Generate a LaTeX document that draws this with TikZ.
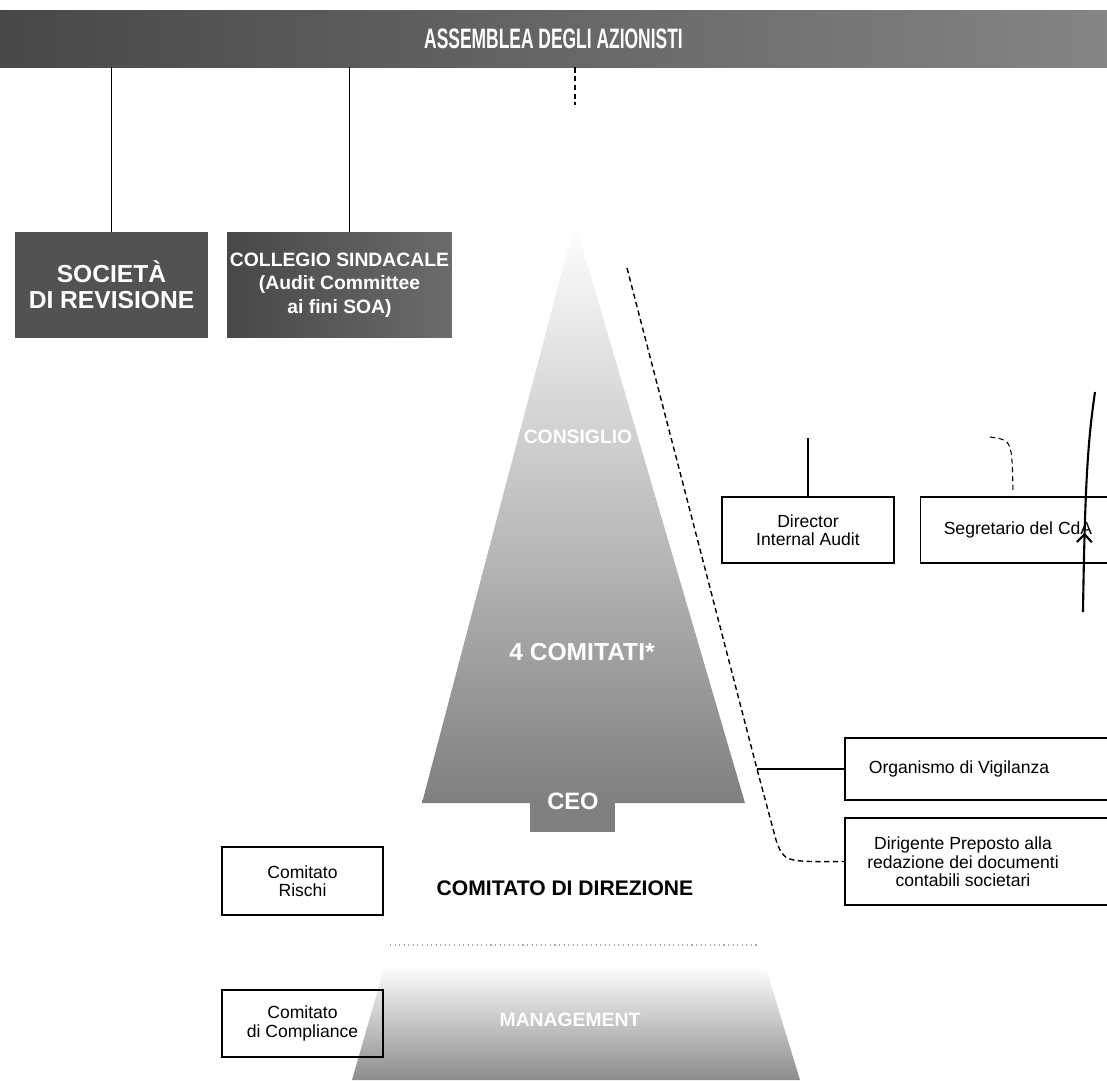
\documentclass[tikz,border=0pt]{standalone}
\usepackage{fontspec}
\setmainfont{Liberation Sans}
\newfontfamily\narrowfont{Liberation Sans}[FakeStretch=0.62]
\usetikzlibrary{calc,arrows.meta,decorations.markings}

\begin{document}
\begin{tikzpicture}[x=0.02cm,y=-0.02cm,
  darkbox/.style={draw=none,inner sep=0pt,text=white,align=center},
  infobox/.style={draw,line width=1pt,inner sep=0pt,align=center,font=\fontsize{10}{10.5}\selectfont},
  infotext/.style={align=center,font=\fontsize{10}{10.5}\selectfont},
  plabel/.style={text=white,font=\bfseries}]
\useasboundingbox (0,0) rectangle (1107,1080);
\node[darkbox,left color=black!72,right color=black!48,minimum width=22.14cm,minimum height=1.14cm,
  font=\narrowfont\bfseries\fontsize{16}{18}\selectfont] (assemblea) at (553.5,38.5) {ASSEMBLEA DEGLI AZIONISTI};
\node[darkbox,fill=black!68,minimum width=3.86cm,minimum height=2.12cm,
  font=\bfseries\fontsize{14}{15}\selectfont] (societa) at (111.5,285) {SOCIETÀ\\DI REVISIONE};
\node[darkbox,left color=black!72,right color=black!58,minimum width=4.5cm,minimum height=2.12cm,
  font=\bfseries\fontsize{11}{13.5}\selectfont] (collegio) at (339.5,285) {COLLEGIO SINDACALE\\(Audit Committee\\ai fini SOA)};
\coordinate (apex) at (575,222);
\shade[top color=white,middle color=black!20,bottom color=black!50] (apex) -- (745,803) -- (422,803) -- cycle;
\node[fill=black!50,minimum width=1.7cm,minimum height=0.58cm,inner sep=0pt] (ceobox) at (572.5,817.5) {};
\shade[top color=white,bottom color=black!45] (385,965) -- (765,965) -- (800,1080) -- (352,1080) -- cycle;
\draw[black!35,dotted,line width=0.6pt] (390,945) -- (760,945);
\node[plabel,font=\bfseries\fontsize{11}{13}\selectfont] (cda) at (578,437) {CONSIGLIO};
\node[plabel,font=\bfseries\fontsize{14}{16}\selectfont] (comitati) at (582,652) {4 COMITATI*};
\node[plabel,font=\bfseries\fontsize{13.5}{15}\selectfont] (ceo) at (573,801) {CEO};
\node[font=\bfseries\fontsize{12}{14}\selectfont] (direzione) at (565,888) {COMITATO DI DIREZIONE};
\node[plabel,font=\bfseries\fontsize{11}{13}\selectfont] (management) at (570,1020) {MANAGEMENT};
\node[infobox,minimum width=3.22cm,minimum height=1.36cm] (rischi) at (302.5,881) {Comitato\\Rischi};
\node[infobox,minimum width=3.22cm,minimum height=1.34cm] (compliance) at (302.5,1023.5) {Comitato\\di Compliance};
\node[infobox,minimum width=3.44cm,minimum height=1.32cm] (audit) at (808,530) {Director\\Internal Audit};
\node[infobox,minimum width=3.9cm,minimum height=1.32cm] (segretario) at (1018,530) {Segretario del CdA};
\node[infobox,minimum width=5.8cm,minimum height=1.24cm] (odv) at (990,769) {};
\node[infotext] (odvtext) at (959,769) {Organismo di Vigilanza};
\node[infobox,minimum width=5.8cm,minimum height=1.74cm] (dirigente) at (990,861.5) {};
\node[infotext] (dirtext) at (963,862) {Dirigente Preposto alla\\redazione dei documenti\\contabili societari};
\draw[line width=0.7pt] (assemblea.south -| societa.north) -- (societa.north);
\draw[line width=0.7pt] ([xshift=0.2cm]collegio.north |- assemblea.south) -- ([xshift=0.2cm]collegio.north);
\draw[line width=0.7pt,densely dashed] (assemblea.south -| apex) -- ++(0,38);
\coordinate (auditin) at (808,438);
\draw[line width=0.7pt] (auditin) -- (audit.north);
\coordinate (dtop) at (627,268);
\coordinate (knee) at (757,769);
\coordinate (dbend) at (776,840);
\draw[line width=0.8pt,densely dashed] (dtop) -- (knee) -- (dbend) .. controls (784,862) .. (dirigente.west);
\draw[line width=0.7pt] (knee) -- (odv.west);
\draw[line width=0.6pt,densely dashed] (990,437) .. controls (1012,440) .. (1013,492);
\draw[line width=1.2pt,postaction=decorate,decoration={markings,
  mark=at position 0.36 with {\arrow{Straight Barb[length=1.6mm,width=3mm]}}}]
  (1083,612) .. controls (1085,480) and (1088,440) .. (1095,392);
\end{tikzpicture}
\end{document}
